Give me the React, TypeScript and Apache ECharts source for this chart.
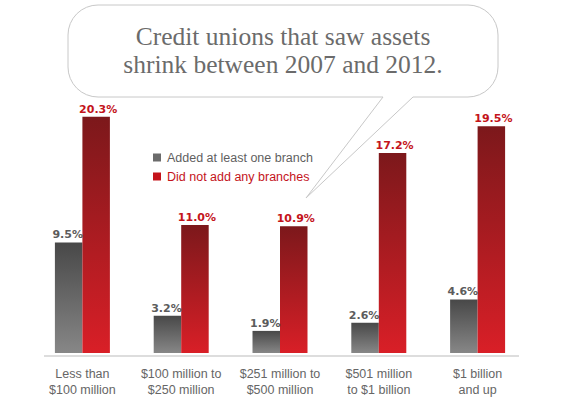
import React, { useEffect, useRef } from "react";
import * as echarts from "echarts";

const categories = [
  "Less than\n$100 million",
  "$100 million to\n$250 million",
  "$251 million to\n$500 million",
  "$501 million\nto $1 billion",
  "$1 billion\nand up",
];
const addedBranch = [9.5, 3.2, 1.9, 2.6, 4.6];
const noBranch = [20.3, 11.0, 10.9, 17.2, 19.5];
const seriesNames = ["Added at least one branch", "Did not add any branches"];
const titleLines = ["Credit unions that saw assets", "shrink between 2007 and 2012."];

const bubblePath =
  "M 98 5 H 468 A 30 30 0 0 1 498 35 V 67 A 30 30 0 0 1 468 97 H 413 L 306 198 L 383 97 H 98 A 30 30 0 0 1 68 67 V 35 A 30 30 0 0 1 98 5 Z";

let registered = false;

export default function App() {
  const ref = useRef<HTMLDivElement>(null);
  useEffect(() => {
    if (!ref.current) return;
    if (!registered) {
      echarts.graphic.registerShape("bubble", echarts.graphic.extendPath(bubblePath, {}));
      registered = true;
    }
    const chart = echarts.init(ref.current, null, { renderer: "svg" });
    const grayGrad = new echarts.graphic.LinearGradient(0, 0, 0, 1, [
      { offset: 0, color: "#484848" },
      { offset: 1, color: "#878787" },
    ]);
    const redGrad = new echarts.graphic.LinearGradient(0, 0, 0, 1, [
      { offset: 0, color: "#7c181b" },
      { offset: 1, color: "#d91f27" },
    ]);
    chart.setOption({
      animation: false,
      backgroundColor: "#ffffff",
      grid: { left: 33, right: 38, top: 4, bottom: 42 },
      legend: {
        orient: "vertical",
        left: 148,
        top: 146,
        itemWidth: 8,
        itemHeight: 8,
        itemGap: 6,
        icon: "rect",
        selectedMode: false,
        textStyle: {
          fontFamily: "Liberation Sans, Arial, sans-serif",
          fontSize: 12.5,
          lineHeight: 13,
          padding: [0, 0, 0, 1],
        },
        data: [
          { name: seriesNames[0], itemStyle: { color: "#6b6b6b" }, textStyle: { color: "#5f5f5f" } },
          { name: seriesNames[1], itemStyle: { color: "#c4141b" }, textStyle: { color: "#c4141b" } },
        ],
      },
      xAxis: {
        type: "category",
        data: categories,
        axisLine: { show: false },
        axisTick: { show: false },
        axisLabel: {
          color: "#666666",
          fontFamily: "Liberation Sans, Arial, sans-serif",
          fontSize: 12.5,
          lineHeight: 16,
          margin: 13,
          interval: 0,
        },
      },
      yAxis: {
        type: "value",
        min: 0,
        max: 30,
        show: false,
        splitLine: { show: false },
      },
      series: [
        {
          name: seriesNames[0],
          type: "bar",
          data: addedBranch,
          barWidth: 27.5,
          barGap: "0%",
          itemStyle: { color: grayGrad },
          label: {
            show: true,
            position: "top",
            distance: 2,
            offset: [-1, 0],
            formatter: (p: any) => p.value.toFixed(1) + "%",
            color: "#5c5c5c",
            fontFamily: "DejaVu Sans, sans-serif",
            fontWeight: "bold",
            fontSize: 11,
          },
        },
        {
          name: seriesNames[1],
          type: "bar",
          data: noBranch,
          barWidth: 27.5,
          barGap: "0%",
          itemStyle: { color: redGrad },
          label: {
            show: true,
            position: "top",
            distance: 2,
            offset: [2, 0],
            formatter: (p: any) => p.value.toFixed(1) + "%",
            color: "#c4141b",
            fontFamily: "DejaVu Sans, sans-serif",
            fontWeight: "bold",
            fontSize: 11,
          },
        },
      ],
      graphic: [
        {
          type: "line",
          shape: { x1: 44, y1: 356, x2: 519, y2: 356 },
          style: { stroke: "#dddddd", lineWidth: 2 },
          z: 1,
        },
        {
          type: "bubble",
          x: 0,
          y: 0,
          scaleX: 1,
          scaleY: 1,
          style: { fill: "#ffffff", stroke: "#c8c8c8", lineWidth: 1 },
          z: 10,
        },
        {
          type: "text",
          x: 283,
          y: 22,
          z: 11,
          style: {
            text: titleLines.join("\n"),
            fill: "#6b6b6b",
            font: "25.5px 'Liberation Serif', 'Times New Roman', serif",
            lineHeight: 28,
            align: "center",
            verticalAlign: "top",
          },
        },
      ],
    });
    return () => chart.dispose();
  }, []);
  return (
    <div
      ref={ref}
      style={{ position: "absolute", left: 0, top: 0, width: 565, height: 398 }}
    />
  );
}
